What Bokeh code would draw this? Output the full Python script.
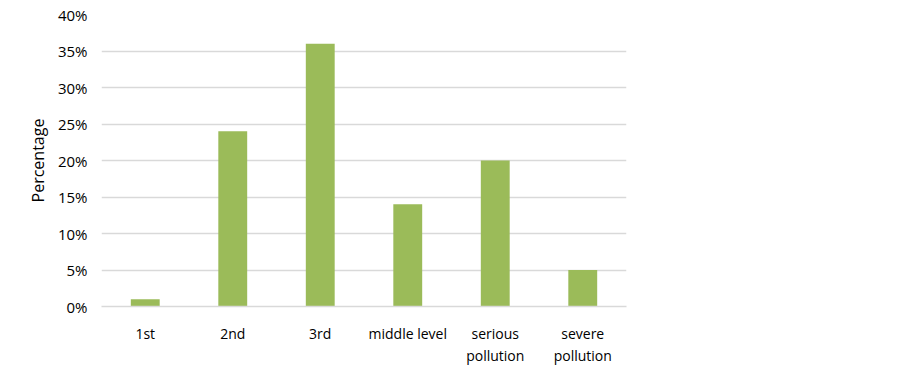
from bokeh.plotting import figure
from bokeh.models import ColumnDataSource, NumeralTickFormatter, FixedTicker, Range1d
from bokeh.embed import file_html
from bokeh.resources import INLINE

categories = ["1st", "2nd", "3rd", "middle level", "serious\npollution", "severe\npollution"]
values = [0.01, 0.24, 0.36, 0.14, 0.20, 0.05]
y_ticks = [0, 0.05, 0.10, 0.15, 0.20, 0.25, 0.30, 0.35, 0.40]

src = ColumnDataSource(dict(cat=categories, val=values))

p = figure(x_range=categories, y_range=Range1d(0, 0.40),
           frame_width=525, frame_height=292,
           output_backend="svg", toolbar_location=None,
           min_border_left=101, min_border_right=255, min_border_top=14, min_border_bottom=53)
p.vbar(x="cat", top="val", width=0.33, source=src, fill_color="#9BBB59", line_color=None)

p.outline_line_color = None
p.xgrid.grid_line_color = None
p.ygrid.grid_line_color = "#D9D9D9"
p.ygrid.grid_line_width = 1.5

p.yaxis.ticker = FixedTicker(ticks=y_ticks)
p.yaxis.formatter = NumeralTickFormatter(format="0%")
p.yaxis.axis_line_color = None
p.yaxis.major_tick_line_color = None
p.yaxis.minor_tick_line_color = None
p.yaxis.major_label_standoff = 8
p.yaxis.axis_label = "Percentage"
p.yaxis.axis_label_standoff = 6

p.xaxis.axis_line_color = "#D9D9D9"
p.xaxis.axis_line_width = 1.5
p.xaxis.major_tick_line_color = None
p.xaxis.minor_tick_line_color = None
p.xaxis.major_label_standoff = 11

for ax in (p.xaxis, p.yaxis):
    ax.major_label_text_font = "Open Sans"
    ax.major_label_text_color = "#000000"
    ax.axis_label_text_font = "Open Sans"
    ax.axis_label_text_font_size = "16px"
    ax.axis_label_text_font_style = "normal"
    ax.axis_label_text_color = "#000000"
p.xaxis.major_label_text_font_size = "14px"
p.yaxis.major_label_text_font_size = "15px"

open("out.html", "w").write(file_html(p, INLINE))
